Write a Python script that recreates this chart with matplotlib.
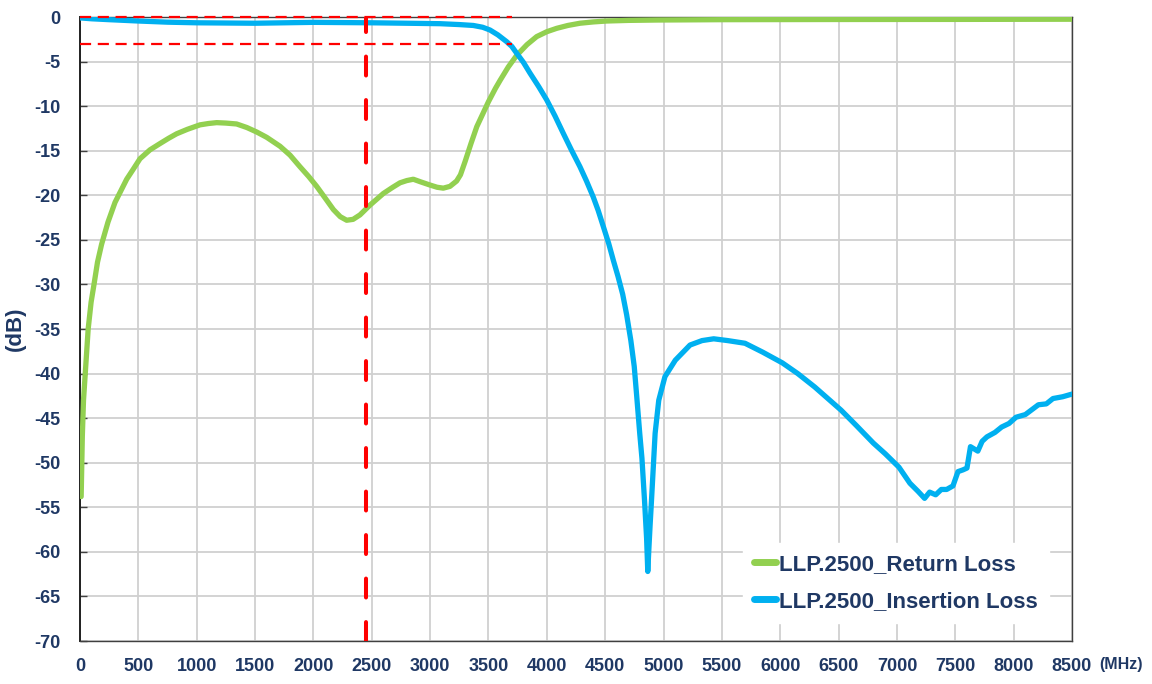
import matplotlib
matplotlib.use('Agg')
import matplotlib.pyplot as plt

plt.rcParams['axes.unicode_minus'] = False
plt.rcParams['font.family'] = ['Liberation Sans', 'DejaVu Sans']

# return loss (green)
rl_freq = [10, 20, 30, 45, 70, 95, 120, 150, 185, 240, 300, 350, 400, 460, 514,
           600, 685, 760, 828, 920, 1028, 1100, 1171, 1250, 1342, 1430, 1514, 1600,
           1714, 1800, 1885, 1960, 2028, 2100, 2171, 2230, 2285, 2340, 2399, 2485,
           2599, 2680, 2742, 2800, 2856, 2920, 2999, 3060, 3113, 3170, 3227, 3260,
           3300, 3350, 3400, 3450, 3500, 3560, 3600, 3670, 3742, 3830, 3913, 4000,
           4085, 4180, 4284, 4400, 4513, 4700, 4941, 5500, 6500, 7500, 8500]
rl_db = [-53.8, -47, -43, -40, -35, -32, -30, -27.5, -25.5, -23, -20.8, -19.5, -18.2,
         -17, -15.9, -14.9, -14.2, -13.6, -13.1, -12.6, -12.1, -11.95, -11.85, -11.9,
         -12.0, -12.4, -12.9, -13.5, -14.5, -15.5, -16.8, -17.9, -19.0, -20.3, -21.6,
         -22.4, -22.8, -22.7, -22.2, -21.1, -19.8, -19.1, -18.6, -18.35, -18.2, -18.5,
         -18.85, -19.1, -19.2, -19.0, -18.4, -17.7, -16.2, -14.2, -12.3, -10.9, -9.5,
         -8.0, -7.1, -5.6, -4.3, -3.1, -2.2, -1.65, -1.27, -0.95, -0.7, -0.55, -0.45,
         -0.38, -0.34, -0.3, -0.28, -0.27, -0.25]

# insertion loss (blue)
il_freq = [0, 100, 250, 500, 750, 1000, 1500, 2000, 2500, 2800, 3085, 3250, 3370,
           3450, 3513, 3580, 3656, 3700, 3742, 3800, 3856, 3930, 3999, 4070, 4141,
           4210, 4284, 4340, 4398, 4440, 4484, 4530, 4570, 4610, 4650, 4684, 4720,
           4749, 4770, 4796, 4815, 4837, 4855, 4865, 4875, 4885, 4897, 4928, 4959,
           5012, 5101, 5227, 5330, 5430, 5550, 5698, 5850, 6018, 6150, 6295, 6521,
           6650, 6798, 6900, 7017, 7111, 7180, 7237, 7280, 7332, 7380, 7426, 7480,
           7523, 7566, 7600, 7630, 7693, 7730, 7771, 7840, 7897, 7960, 8020, 8100,
           8212, 8280, 8337, 8420, 8500]
il_db = [-0.1, -0.2, -0.3, -0.45, -0.58, -0.65, -0.7, -0.6, -0.65, -0.7, -0.75,
         -0.85, -0.95, -1.15, -1.46, -2.0, -2.77, -3.3, -4.07, -5.1, -6.3, -7.8, -9.3,
         -11.1, -13.05, -14.9, -16.8, -18.4, -20.2, -21.7, -23.5, -25.4, -27.3, -29.1,
         -31.1, -33.4, -36.3, -39.2, -42.5, -46.7, -49.5, -54.2, -58.5, -62.2, -59.5,
         -57, -54.2, -46.7, -43.0, -40.35, -38.5, -36.8, -36.3, -36.1, -36.3, -36.6,
         -37.6, -38.8, -40.0, -41.5, -44.1, -45.8, -47.8, -49.0, -50.5, -52.3, -53.2,
         -54.0, -53.3, -53.6, -53.0, -53.0, -52.6, -51.0, -50.8, -50.6, -48.2, -48.7,
         -47.6, -47.1, -46.6, -46.0, -45.6, -44.9, -44.6, -43.5, -43.4, -42.8, -42.6,
         -42.3]

# reference markers
marker_freq = 2450
ref_levels = [0, -3]
ref_end = 3700

x_ticks = list(range(0, 8501, 500))
y_ticks = list(range(0, -71, -5))

navy = '#1F3864'
green = '#92D050'
blue = '#00B0F0'

fig = plt.figure(figsize=(11.52, 6.84), dpi=100)
ax = fig.add_axes([80 / 1152, 1 - 641 / 684, 992 / 1152, 624 / 684])

ax.grid(True, color='#D0D0D0', linewidth=1.3, zorder=0)
ax.set_axisbelow(True)

ax.plot(rl_freq, rl_db, color=green, linewidth=3.8, solid_capstyle='round',
        label='LLP.2500_Return Loss', zorder=3)
ax.plot(il_freq, il_db, color=blue, linewidth=3.8, solid_capstyle='round',
        label='LLP.2500_Insertion Loss', zorder=4)

for lvl in ref_levels:
    ax.plot([0, ref_end], [lvl, lvl], color='#FF0000', linewidth=1.6,
            dashes=(5, 3), zorder=5, clip_on=False)
ax.axvline(marker_freq, color='#FF0000', linewidth=2.9, dashes=(4.7, 6.1),
           dash_capstyle='round', zorder=5)

ax.set_xlim(0, 8500)
ax.set_ylim(-70, 0)
ax.set_xticks(x_ticks)
ax.set_yticks(y_ticks)
ax.set_xticklabels([str(v) for v in x_ticks], fontsize=13, fontweight='bold', color=navy)
ax.set_yticklabels([str(v) for v in y_ticks], fontsize=13, fontweight='bold', color=navy)
ax.tick_params(axis='x', length=0, pad=12)
ax.tick_params(axis='y', direction='in', length=5, width=1, color='#404040', pad=14)

for s in ax.spines.values():
    s.set_color('#404040')
    s.set_linewidth(1.0)
ax.spines['left'].set_color('#202020')
ax.spines['left'].set_linewidth(1.4)

ax.set_ylabel('(dB)', fontsize=16, fontweight='bold', color=navy, labelpad=6)
fig.text(1121 / 1152, 1 - 665 / 684, '(MHz)', fontsize=11.5, fontweight='bold',
         color=navy, ha='center', va='center')

leg = ax.legend(loc='upper left', bbox_to_anchor=(0.668, 0.157), frameon=True,
                fancybox=False, edgecolor='white', framealpha=1.0,
                prop={'size': 16, 'weight': 'bold'}, handlelength=1.0,
                handletextpad=0.15, labelspacing=0.72, borderaxespad=0,
                borderpad=0.5)
for t in leg.get_texts():
    t.set_color(navy)
for h in leg.get_lines():
    h.set_linewidth(5)
leg.set_zorder(6)

fig.savefig('out.png', dpi=100)
